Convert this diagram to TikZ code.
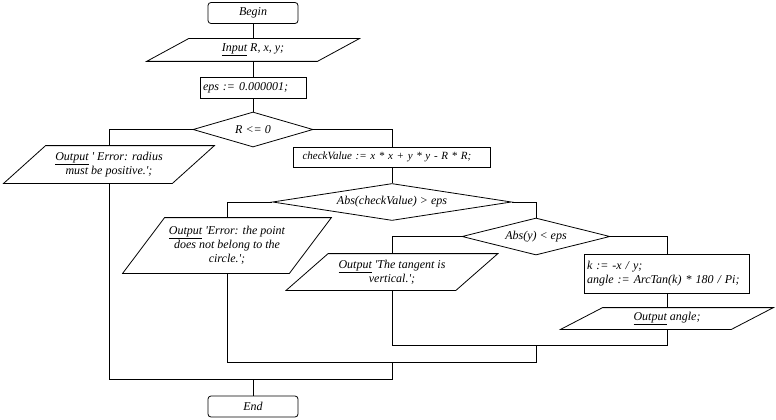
\documentclass[tikz,border=0pt]{standalone}
\usepackage{fontspec}
\setmainfont{Liberation Serif}
\usetikzlibrary{shapes.geometric}

% parallelogram drawn round an io node
\newcommand{\iobox}[1]{\draw ([xshift=42pt]#1.north west) -- (#1.north east) -- ([xshift=-42pt]#1.south east) -- (#1.south west) -- cycle;}

\begin{document}
\begin{tikzpicture}[x=1pt,y=-1pt,line width=0.8pt,
		font=\fontsize{12}{14}\selectfont\itshape,
		terminal/.style={draw,rounded corners=3pt,minimum width=90pt,minimum height=21pt,inner sep=0pt},
		proc/.style={draw,inner sep=0pt,align=left},
		decision/.style={draw,diamond,inner sep=0pt,aspect=#1},
		io/.style={inner sep=0pt,align=center}]
		\useasboundingbox (0,0) rectangle (776,420);

		\node[terminal] (begin) at (253,13) {Begin};
		\node[io,minimum width=212pt,minimum height=22pt] (input) at (253,50) {\underline{Input} R, x, y;};
		\node[proc,minimum height=21pt,text width=100pt,inner xsep=3pt] (eps) at (253,87.5) {eps := 0.000001;};
		\node[decision=3.4,minimum width=120pt,minimum height=35pt] (r0) at (253,129.5) {R <= 0};
		\node[io,minimum width=210pt,minimum height=37pt] (radius) at (109,164.5) {\underline{Output} \textquotesingle{} Error: radius\\ must be positive.\textquotesingle;};
		\node[proc,minimum height=20pt,text width=179pt,inner xsep=9pt,font=\fontsize{11}{14}\selectfont\itshape] (check) at (392,157) {checkValue := x * x + y * y - R * R;};
		\node[decision=6.4,minimum width=239pt,minimum height=37pt] (cv) at (392,202) {Abs(checkValue) > eps};
		\node[io,minimum width=208pt,minimum height=55pt] (point) at (227,245.5) {\underline{Output} \textquotesingle Error: the point\\ does not belong to the\\ circle.\textquotesingle;};
		\node[decision=4,minimum width=148pt,minimum height=37pt] (ay) at (536,236.5) {Abs(y) < eps};
		\node[io,minimum width=211pt,minimum height=36pt] (tangent) at (392,272) {\underline{Output} \textquotesingle The tangent is\\ vertical.\textquotesingle;};
		\node[proc,minimum height=39pt,text width=160pt,inner xsep=2.5pt] (kbox) at (667,273.5) {k := -x / y;\\ angle := ArcTan(k) * 180 / Pi;};
		\node[io,minimum width=212pt,minimum height=21pt] (output) at (667,318.5) {\underline{Output} angle;};
		\node[terminal] (end) at (253,406.5) {End};

		\iobox{input}
		\iobox{radius}
		\iobox{point}
		\iobox{tangent}
		\iobox{output}

		\coordinate (j3) at (536,345);
		\coordinate (j2) at (392,362);
		\coordinate (j1) at (253,379);

		\draw (begin.south) -- (input.north);
		\draw (input.south) -- (eps.north);
		\draw (eps.south) -- (r0.north);
		\draw (r0.west) -| (radius.north);
		\draw (r0.east) -| (check.north);
		\draw (check.south) -- (cv.north);
		\draw (cv.west) -| (point.north);
		\draw (cv.east) -| (ay.north);
		\draw (ay.west) -| (tangent.north);
		\draw (ay.east) -| (kbox.north);
		\draw (kbox.south) -- (output.north);
		\draw (tangent.south) |- (j3);
		\draw (output.south) |- (j3);
		\draw (point.south) |- (j2);
		\draw (j3) |- (j2);
		\draw (radius.south) |- (j1);
		\draw (j2) |- (j1);
		\draw (j1) -- (end.north);
\end{tikzpicture}
\end{document}
